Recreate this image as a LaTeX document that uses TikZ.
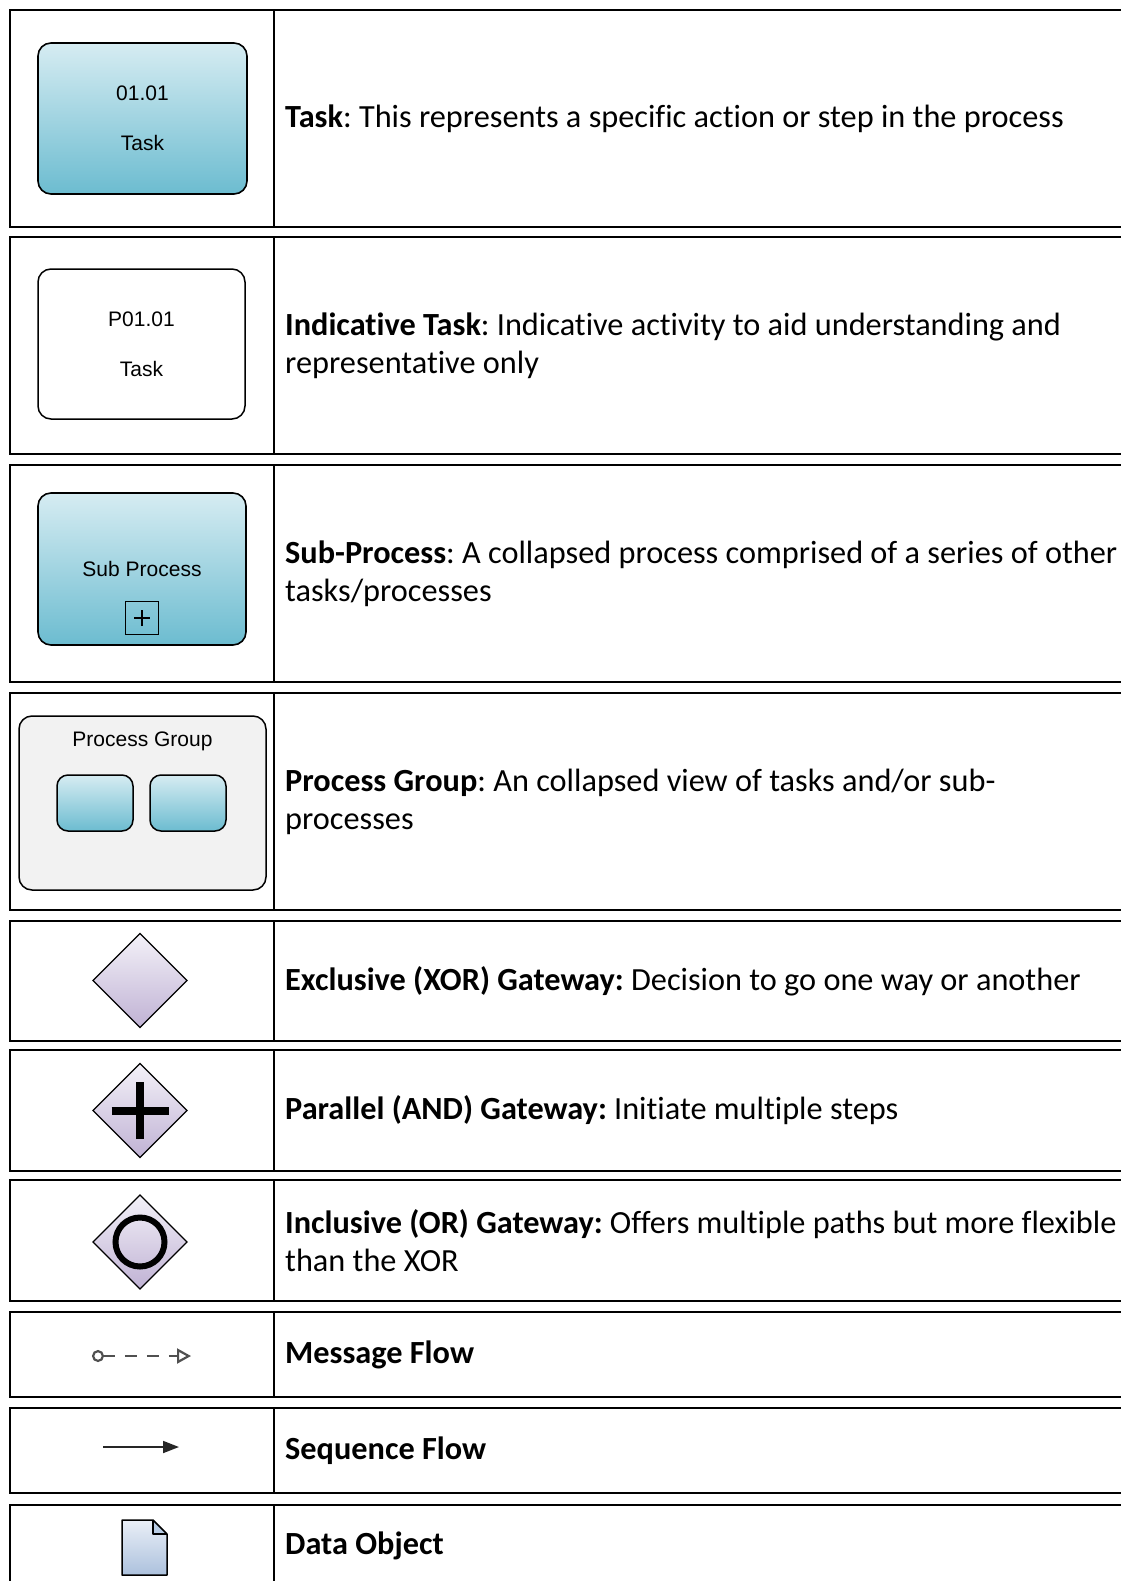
\documentclass[tikz,border=0pt]{standalone}
\usepackage{fontspec}
\setmainfont{Carlito}[Ligatures={NoCommon}]
\newfontfamily\arialf{Liberation Sans}
\usetikzlibrary{shapes.geometric,arrows.meta}
\frenchspacing
\definecolor{tasktop}{RGB}{214,236,242}
\definecolor{taskbot}{RGB}{108,188,208}
\definecolor{gwtop}{RGB}{243,241,248}
\definecolor{gwbot}{RGB}{192,178,212}
\definecolor{doctop}{RGB}{234,239,247}
\definecolor{docbot}{RGB}{172,193,221}
\definecolor{docfold}{RGB}{184,204,228}
\definecolor{pgfill}{RGB}{242,242,242}
\definecolor{msggray}{RGB}{80,80,80}
\begin{document}
\begin{tikzpicture}[x=1pt,y=-1pt,
  cellbox/.style={draw, line width=2pt},
  divline/.style={draw, line width=1.6pt},
  desc/.style={anchor=west, align=left, inner sep=0pt, font=\fontsize{32.3}{38}\selectfont},
  lbl/.style={font=\arialf\fontsize{21}{50}\selectfont, align=center},
  taskbox/.style={draw, line width=1.6pt, rounded corners=13pt, top color=tasktop, bottom color=taskbot, lbl, inner sep=0pt},
  plainbox/.style={draw, line width=1.5pt, rounded corners=13pt, fill=white, lbl, inner sep=0pt},
  pgbox/.style={draw, line width=1.5pt, rounded corners=13pt, fill=pgfill, inner sep=0pt},
  minitask/.style={draw, line width=1.5pt, rounded corners=11pt, top color=tasktop, bottom color=taskbot, inner sep=0pt, minimum width=76pt, minimum height=56pt},
  gateway/.style={diamond, draw, line width=1.2pt, minimum width=94pt, minimum height=94pt, inner sep=0pt, outer sep=0pt, top color=gwtop, bottom color=gwbot},
  msgflow/.style={draw=msggray, line width=2.2pt, dash pattern=on 12pt off 10pt, {Circle[open,length=12pt,width=12pt]}-{Triangle[open,length=14pt,width=15pt]}},
  seqflow/.style={draw=black!85, line width=1.8pt, -{Triangle[length=16pt,width=12pt]}}
]
\useasboundingbox (0,0) rectangle (1120,1581);
% table rows
\foreach \t/\b in {10/227, 237/454, 465/682, 693/910, 921/1041, 1050/1171, 1180/1301, 1312/1397, 1408/1493, 1505/1600}{
  \draw[cellbox] (10,\t) rectangle (1140,\b);
  \draw[divline] (274,\t) -- (274,\b);
}
% Row 1: Task
\node[taskbox, minimum width=209pt, minimum height=151pt] (task) at (142.5,118.5) {01.01\\Task};
\node[desc] (d1) at (285,118.5) {\textbf{Task}: This represents a specific action or step in the process};
% Row 2: Indicative task
\node[plainbox, minimum width=207pt, minimum height=150pt] (itask) at (141.5,344) {P01.01\\Task};
\node[desc] (d2) at (285,345.5) {\textbf{Indicative Task}: Indicative activity to aid understanding and\\representative only};
% Row 3: Sub-process
\node[taskbox, minimum width=208pt, minimum height=152pt] (sub) at (142,569) {Sub Process};
\node[draw, line width=1.3pt, minimum size=33pt, inner sep=0pt] (plusbox) at (142,618) {};
\draw[line width=1.3pt] ([xshift=-8pt]plusbox.center) -- ([xshift=8pt]plusbox.center);
\draw[line width=1.3pt] ([yshift=-8pt]plusbox.center) -- ([yshift=8pt]plusbox.center);
\node[desc] (d3) at (285,573.5) {\textbf{Sub-Process}: A collapsed process comprised of a series of other\\tasks/processes};
% Row 4: Process group
\node[pgbox, minimum width=247pt, minimum height=174pt] (pg) at (142.5,803) {};
\node[lbl] (pglabel) at (142.5,741) {Process Group};
\node[minitask] (mt1) at (95,803) {};
\node[minitask] (mt2) at (188,803) {};
\node[desc] (d4) at (285,801.5) {\textbf{Process Group}: An collapsed view of tasks and/or sub-\\processes};
% Row 5: XOR
\node[gateway] (gx) at (140,980.5) {};
\node[desc] (d5) at (285,981) {\textbf{Exclusive (XOR) Gateway:} Decision to go one way or another};
% Row 6: AND
\node[gateway] (ga) at (140,1110.5) {};
\draw[line width=8pt] ([xshift=-28.5pt]ga.center) -- ([xshift=28.5pt]ga.center);
\draw[line width=8pt] ([yshift=-28.5pt]ga.center) -- ([yshift=28.5pt]ga.center);
\node[desc] (d6) at (285,1110.5) {\textbf{Parallel (AND) Gateway:} Initiate multiple steps};
% Row 7: OR
\node[gateway] (go) at (140,1242) {};
\draw[line width=6pt] (go.center) circle[radius=24.5pt];
\node[desc] (d7) at (285,1240.5) {\textbf{Inclusive (OR) Gateway:} Offers multiple paths but more flexible\\than the XOR};
% Row 8: Message flow
\coordinate (m1) at (92,1356);
\coordinate (m2) at (191,1356);
\draw[msgflow] (m1) -- (m2);
\node[desc] (d8) at (285,1354.5) {\textbf{Message Flow}};
% Row 9: Sequence flow
\coordinate (s1) at (103,1447);
\coordinate (s2) at (179,1447);
\draw[seqflow] (s1) -- (s2);
\node[desc] (d9) at (285,1450.5) {\textbf{Sequence Flow}};
% Row 10: Data object
\shade[top color=doctop, bottom color=docbot] (122,1520) -- (153,1520) -- (167,1534) -- (167,1575) -- (122,1575) -- cycle;
\fill[docfold] (153,1520) -- (167,1534) -- (153,1534) -- cycle;
\draw[line width=1.5pt, line join=round] (122,1520) -- (153,1520) -- (167,1534) -- (167,1575) -- (122,1575) -- cycle;
\draw[line width=1.5pt, line join=round] (153,1520) -- (153,1534) -- (167,1534);
\node[desc] (d10) at (285,1546) {\textbf{Data Object}};
\end{tikzpicture}
\end{document}
